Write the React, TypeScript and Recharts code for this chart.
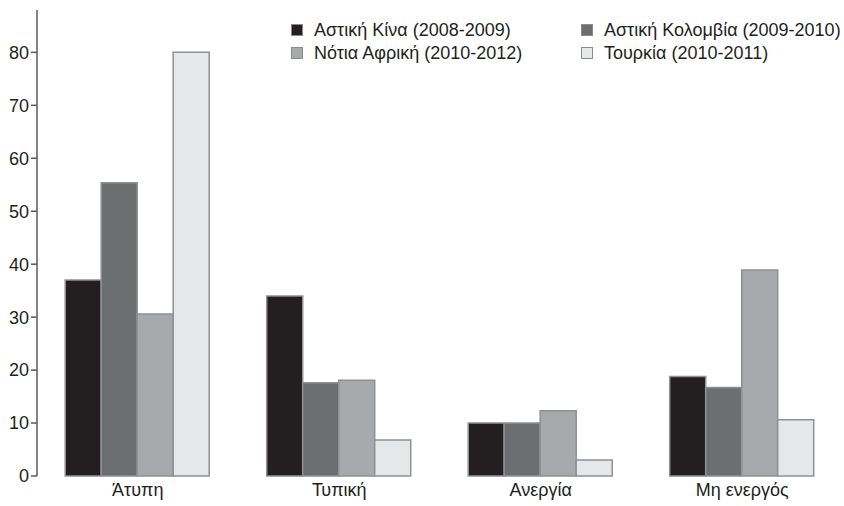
import { Bar, BarChart, XAxis, YAxis } from 'recharts';

const categories = ['Άτυπη', 'Τυπική', 'Ανεργία', 'Μη ενεργός'];
const china = [37, 34, 10, 18.8];
const colombia = [55.4, 17.6, 10, 16.7];
const southAfrica = [30.6, 18.1, 12.3, 38.9];
const turkey = [80, 6.8, 3, 10.6];
const yTicks = [0, 10, 20, 30, 40, 50, 60, 70, 80];

const series = [
  { key: 'china', name: 'Αστική Κίνα (2008-2009)', color: '#231f20' },
  { key: 'colombia', name: 'Αστική Κολομβία (2009-2010)', color: '#6d6e70' },
  { key: 'southAfrica', name: 'Νότια Αφρική (2010-2012)', color: '#a7a9ac' },
  { key: 'turkey', name: 'Τουρκία (2010-2011)', color: '#e6e7e8' },
];

const data = categories.map((c, i) => ({
  cat: c,
  pos: i + 0.5,
  china: china[i],
  colombia: colombia[i],
  southAfrica: southAfrica[i],
  turkey: turkey[i],
}));

const FONT = '"Liberation Sans", Arial, sans-serif';
const AXIS = '#58595b';
const TEXT = '#231f20';

function LegendBox() {
  return (
    <div
      style={{
        position: 'absolute',
        left: 291,
        top: 19,
        display: 'grid',
        gridTemplateColumns: '290px 260px',
        rowGap: 1,
        fontFamily: FONT,
        fontSize: 18,
        color: TEXT,
        whiteSpace: 'nowrap',
      }}
    >
      {series.map((s) => (
        <div key={s.key} style={{ display: 'flex', alignItems: 'center', height: 22 }}>
          <span
            style={{
              display: 'inline-block',
              width: 10,
              height: 10,
              background: s.color,
              border: '1px solid #8a8a8a',
              marginRight: 11,
            }}
          />
          {s.name}
        </div>
      ))}
    </div>
  );
}

export default function App() {
  return (
    <div style={{ position: 'absolute', left: 0, top: 0, width: 844, height: 506, background: '#fff' }}>
      <BarChart
        width={844}
        height={506}
        data={data}
        margin={{ top: 10, right: 1, left: 0, bottom: 0 }}
        barCategoryGap="14%"
        barGap={0}
      >
        <XAxis
          xAxisId="b"
          type="number"
          dataKey="pos"
          domain={[0, 4]}
          ticks={[0, 1, 2, 3, 4]}
          height={0}
          tick={false}
          tickSize={6}
          tickLine={{ stroke: AXIS, strokeWidth: 1.5 }}
          axisLine={{ stroke: AXIS, strokeWidth: 1.5 }}
        />
        <XAxis
          xAxisId="cat"
          dataKey="cat"
          height={30}
          axisLine={false}
          tickLine={false}
          tickSize={5}
          tick={{ fill: TEXT, fontSize: 18, fontFamily: FONT }}
        />
        <YAxis
          domain={[0, 88]}
          ticks={yTicks}
          width={37}
          tickSize={6}
          tickLine={{ stroke: AXIS, strokeWidth: 1.5 }}
          axisLine={{ stroke: AXIS, strokeWidth: 1.5 }}
          tick={{ fill: TEXT, fontSize: 18, fontFamily: FONT }}
        />
        {series.map((s) => (
          <Bar
            key={s.key}
            xAxisId="cat"
            dataKey={s.key}
            name={s.name}
            fill={s.color}
            stroke="#8f9092"
            strokeWidth={1.5}
            isAnimationActive={false}
          />
        ))}
      </BarChart>
      <LegendBox />
    </div>
  );
}
